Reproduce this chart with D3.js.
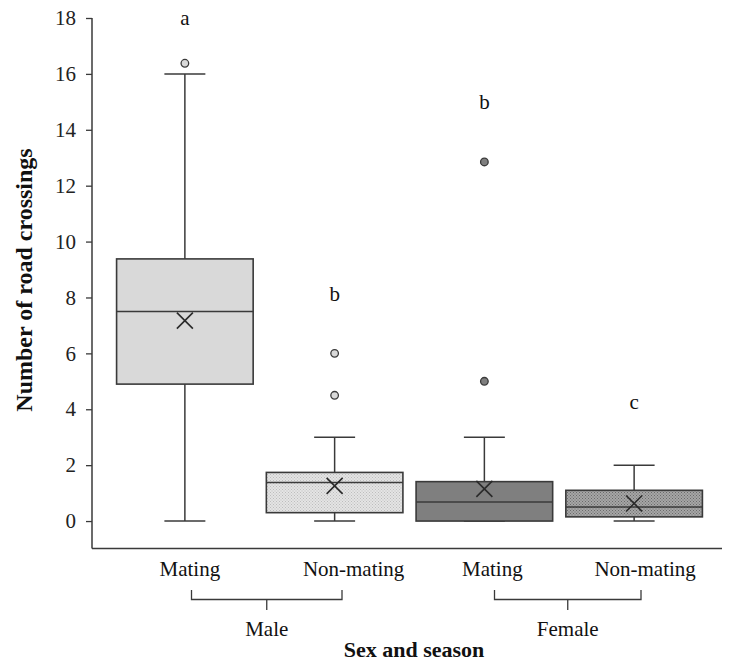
<!DOCTYPE html>
<html><head><meta charset="utf-8">
<script src="https://cdn.jsdelivr.net/npm/d3@7"></script>
<style>
html,body{margin:0;padding:0;background:#fff;}
svg{display:block;font-family:"Liberation Serif","Times New Roman",serif;}
</style></head>
<body>
<svg id="chart" width="729" height="662"></svg>
<script>
// ---- data ----
const categories = ["Male mating", "Male non-mating", "Female mating", "Female non-mating"];
const seasonLabels = ["Mating", "Non-mating", "Mating", "Non-mating"];
const sexGroups = ["Male", "Female"];
const whiskerLow = [0, 0, 0, 0];
const q1 = [4.9, 0.3, 0, 0.15];
const median = [7.5, 1.38, 0.68, 0.5];
const q3 = [9.38, 1.74, 1.41, 1.1];
const whiskerHigh = [16, 3, 3, 2];
const means = [7.17, 1.26, 1.15, 0.63];
const outliers = [[16.38], [6, 4.5], [12.85, 5], []];
const letters = ["a", "b", "b", "c"];
const letterValues = [17.75, 7.86, 14.75, 4.0];
const yTicks = [0, 2, 4, 6, 8, 10, 12, 14, 16, 18];
const yTitle = "Number of road crossings";
const xTitle = "Sex and season";

// ---- layout ----
const svg = d3.select("#chart");
const axisX = 92, axisBottom = 548.5, axisRight = 722;
const y = d3.scaleLinear().domain([-1, 18]).range([549, 18]);
const x = d3.scaleBand().domain(categories).range([110, 709]).paddingInner(0.088).paddingOuter(0.044);
const bw = x.bandwidth();
const cx = c => x(c) + bw / 2;
const labelDx = [5, 19, 8, 11];
const ink = "#3a3a3a";
const fs = 21;

const defs = svg.append("defs");
function dotPattern(id, base, dot) {
  const p = defs.append("pattern").attr("id", id).attr("width", 3).attr("height", 3)
    .attr("patternUnits", "userSpaceOnUse");
  p.append("rect").attr("width", 3).attr("height", 3).attr("fill", base);
  p.append("rect").attr("x", 0).attr("y", 0).attr("width", 1).attr("height", 1).attr("fill", dot);
  p.append("rect").attr("x", 1.5).attr("y", 1.5).attr("width", 1).attr("height", 1).attr("fill", dot);
}
dotPattern("dotLight", "#e4e4e4", "#bdbdbd");
dotPattern("dotDark", "#a6a6a6", "#6a6a6a");
const fills = ["#d9d9d9", "url(#dotLight)", "#7f7f7f", "url(#dotDark)"];
const outlierFills = ["#d9d9d9", "#d9d9d9", "#7f7f7f", "#a0a0a0"];

// ---- axes ----
const yAxis = d3.axisLeft(y).tickValues(yTicks).tickSize(6).tickPadding(10).tickFormat(d3.format("d"));
const gy = svg.append("g").attr("transform", `translate(${axisX},0)`).call(yAxis);
gy.select(".domain").remove();
gy.selectAll(".tick line").attr("stroke", ink).attr("stroke-width", 1.3);
gy.selectAll(".tick text").attr("font-size", fs).attr("fill", "#222")
  .attr("font-family", "Liberation Serif");
svg.append("line").attr("x1", axisX).attr("x2", axisX).attr("y1", y(18)).attr("y2", axisBottom)
  .attr("stroke", ink).attr("stroke-width", 1.5);
svg.append("line").attr("x1", axisX).attr("x2", axisRight).attr("y1", axisBottom).attr("y2", axisBottom)
  .attr("stroke", ink).attr("stroke-width", 1.5);

// ---- boxes ----
const g = svg.append("g");
categories.forEach((c, i) => {
  const mx = cx(c);
  const capW = bw * 0.3;
  g.append("line").attr("x1", mx).attr("x2", mx).attr("y1", y(whiskerHigh[i])).attr("y2", y(q3[i]))
    .attr("stroke", ink).attr("stroke-width", 1.5);
  g.append("line").attr("x1", mx).attr("x2", mx).attr("y1", y(q1[i])).attr("y2", y(whiskerLow[i]))
    .attr("stroke", ink).attr("stroke-width", 1.5);
  g.append("line").attr("x1", mx - capW / 2).attr("x2", mx + capW / 2)
    .attr("y1", y(whiskerHigh[i])).attr("y2", y(whiskerHigh[i])).attr("stroke", ink).attr("stroke-width", 1.5);
  g.append("line").attr("x1", mx - capW / 2).attr("x2", mx + capW / 2)
    .attr("y1", y(whiskerLow[i])).attr("y2", y(whiskerLow[i])).attr("stroke", ink).attr("stroke-width", 1.5);
  g.append("rect").attr("x", x(c)).attr("width", bw).attr("y", y(q3[i])).attr("height", y(q1[i]) - y(q3[i]))
    .attr("fill", fills[i]).attr("stroke", ink).attr("stroke-width", 1.6);
  g.append("line").attr("x1", x(c)).attr("x2", x(c) + bw).attr("y1", y(median[i])).attr("y2", y(median[i]))
    .attr("stroke", ink).attr("stroke-width", 1.5);
  const s = 8, my = y(means[i]);
  g.append("path").attr("d", `M${mx - s},${my - s}L${mx + s},${my + s}M${mx - s},${my + s}L${mx + s},${my - s}`)
    .attr("stroke", "#2a2a2a").attr("stroke-width", 1.6).attr("fill", "none");
  outliers[i].forEach(v => {
    g.append("circle").attr("cx", mx).attr("cy", y(v)).attr("r", 3.8)
      .attr("fill", outlierFills[i]).attr("stroke", ink).attr("stroke-width", 1.3);
  });
  g.append("text").attr("x", mx).attr("y", y(letterValues[i])).attr("text-anchor", "middle")
    .attr("font-size", fs).attr("fill", "#111").text(letters[i]);
  svg.append("text").attr("x", mx + labelDx[i]).attr("y", 576).attr("text-anchor", "middle")
    .attr("font-size", fs).attr("fill", "#111").text(seasonLabels[i]);
});

// ---- group brackets ----
const bracketEnds = [[191.5, 342], [494.5, 641]];
sexGroups.forEach((s, j) => {
  const [a, b] = bracketEnds[j];
  const m = (a + b) / 2;
  svg.append("path").attr("d", `M${a},590V599.5H${b}V590M${m},599.5V610`)
    .attr("fill", "none").attr("stroke", ink).attr("stroke-width", 1.3);
  svg.append("text").attr("x", m).attr("y", 636).attr("text-anchor", "middle")
    .attr("font-size", fs).attr("fill", "#111").text(s);
});

// ---- titles ----
svg.append("text").attr("x", 414).attr("y", 657).attr("text-anchor", "middle")
  .attr("font-size", 22).attr("font-weight", "bold").attr("fill", "#111").text(xTitle);
svg.append("text").attr("transform", "translate(32,280) rotate(-90)").attr("text-anchor", "middle")
  .attr("font-size", 24).attr("font-weight", "bold").attr("fill", "#111").text(yTitle);
</script>
</body></html>
